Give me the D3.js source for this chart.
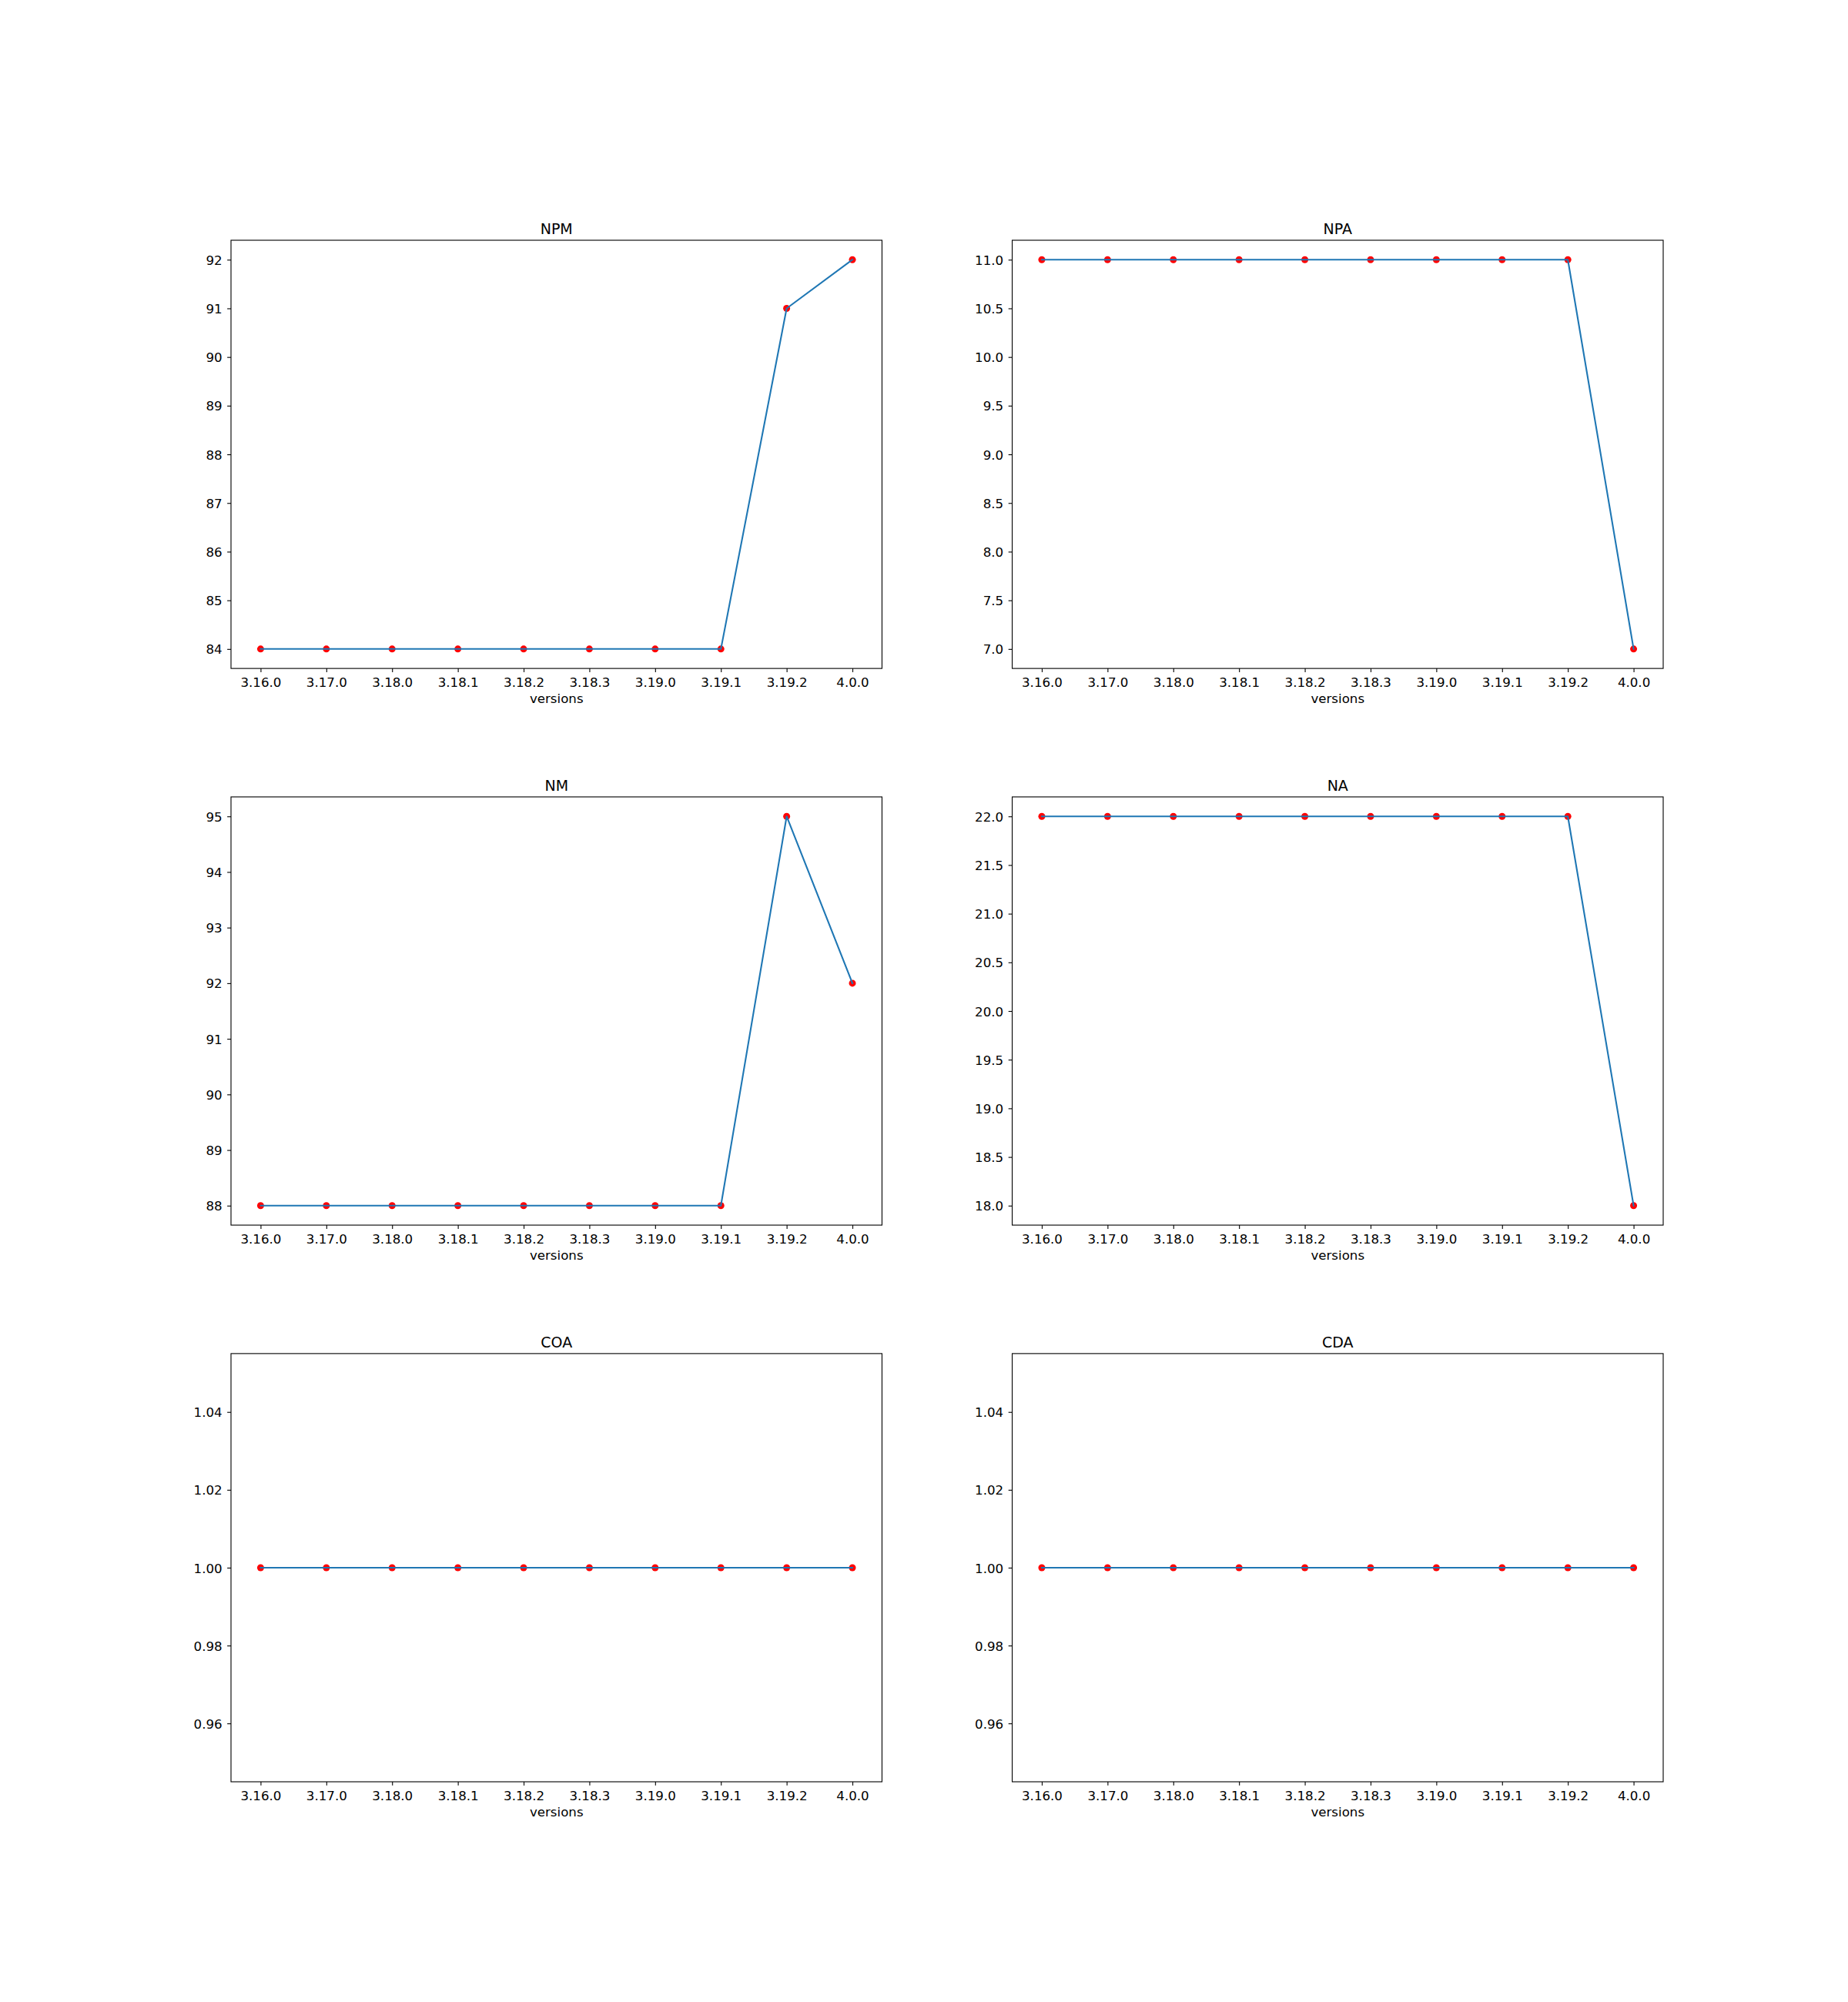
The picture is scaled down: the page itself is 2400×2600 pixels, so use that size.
<!DOCTYPE html>
<html><head><meta charset="utf-8">
<script src="https://cdn.jsdelivr.net/npm/d3@7"></script>
<style>body{margin:0;background:#fff}</style>
</head><body>
<svg id="c" width="2400" height="2600"></svg>
<script>
const versions = ["3.16.0","3.17.0","3.18.0","3.18.1","3.18.2","3.18.3","3.19.0","3.19.1","3.19.2","4.0.0"];
const titles = ["NPM","NPA","NM","NA","COA","CDA"];
const npm = [84,84,84,84,84,84,84,84,91,92];
const npa = [11,11,11,11,11,11,11,11,11,7];
const nm  = [88,88,88,88,88,88,88,88,95,92];
const na  = [22,22,22,22,22,22,22,22,22,18];
const coa = [1,1,1,1,1,1,1,1,1,1];
const cda = [1,1,1,1,1,1,1,1,1,1];
const npmTicks = [84,85,86,87,88,89,90,91,92];
const npaTicks = [7.0,7.5,8.0,8.5,9.0,9.5,10.0,10.5,11.0];
const nmTicks = [88,89,90,91,92,93,94,95];
const naTicks = [18.0,18.5,19.0,19.5,20.0,20.5,21.0,21.5,22.0];
const constTicks = [0.96,0.98,1.00,1.02,1.04];

const panels = [
  {title:titles[0], vals:npm, ticks:npmTicks, fmt:d3.format("d"), dom:[83.6,92.4]},
  {title:titles[1], vals:npa, ticks:npaTicks, fmt:d3.format(".1f"), dom:[6.8,11.2]},
  {title:titles[2], vals:nm, ticks:nmTicks, fmt:d3.format("d"), dom:[87.65,95.35]},
  {title:titles[3], vals:na, ticks:naTicks, fmt:d3.format(".1f"), dom:[17.8,22.2]},
  {title:titles[4], vals:coa, ticks:constTicks, fmt:d3.format(".2f"), dom:[0.945,1.055]},
  {title:titles[5], vals:cda, ticks:constTicks, fmt:d3.format(".2f"), dom:[0.945,1.055]},
];

const svg = d3.select("#c");
const W=2400,H=2600;
const padL=0.125*W, padR=0.9*W, padT=0.12*H, padB=0.89*H;
const aw=(padR-padL)/2.2, ah=(padB-padT)/3.6;
const font="DejaVu Sans";
const fs=16.67, titleFs=19;
const tickLen=4.86;

panels.forEach((p,i)=>{
  const col=i%2,row=Math.floor(i/2);
  const x0=padL+col*aw*1.2, y0=padT+row*ah*1.3;
  const g=svg.append("g").attr("transform",`translate(${x0},${y0})`);
  const x=d3.scaleLinear().domain([-0.45,9.45]).range([0,aw]);
  const y=d3.scaleLinear().domain(p.dom).range([ah,0]);
  const idx=d3.range(versions.length);

  g.selectAll("circle").data(p.vals).join("circle")
    .attr("cx",(d,k)=>x(k)).attr("cy",d=>y(d)).attr("r",4.5).attr("fill","#ff0000");
  g.append("path").datum(p.vals)
    .attr("d",d3.line().x((d,k)=>x(k)).y(d=>y(d)))
    .attr("fill","none").attr("stroke","#1f77b4").attr("stroke-width",2.08)
    .attr("stroke-linejoin","round").attr("stroke-linecap","square");

  const xa=g.append("g").attr("transform",`translate(0,${ah})`)
    .call(d3.axisBottom(x).tickValues(idx).tickFormat(k=>versions[k]).tickSize(tickLen).tickPadding(4.86));
  const ya=g.append("g")
    .call(d3.axisLeft(y).tickValues(p.ticks).tickFormat(p.fmt).tickSize(tickLen).tickPadding(6.5));
  [xa,ya].forEach(a=>{
    a.select(".domain").remove();
    a.selectAll(".tick line").attr("stroke","#000").attr("stroke-width",1.11);
    a.selectAll(".tick text").attr("font-family",font).attr("font-size",fs).attr("fill","#000");
  });
  xa.selectAll(".tick text").attr("dy",null).attr("y",24.3);
  ya.selectAll(".tick text").attr("dy","0.364em");

  g.append("rect").attr("x",0).attr("y",0).attr("width",aw).attr("height",ah)
    .attr("fill","none").attr("stroke","#000").attr("stroke-width",1.11);

  g.append("text").attr("x",aw/2).attr("y",-8.3).attr("text-anchor","middle")
    .attr("font-family",font).attr("font-size",titleFs).text(p.title);
  g.append("text").attr("x",aw/2).attr("y",ah+45.3).attr("text-anchor","middle")
    .attr("font-family",font).attr("font-size",fs).text("versions");
});
</script>
</body></html>
